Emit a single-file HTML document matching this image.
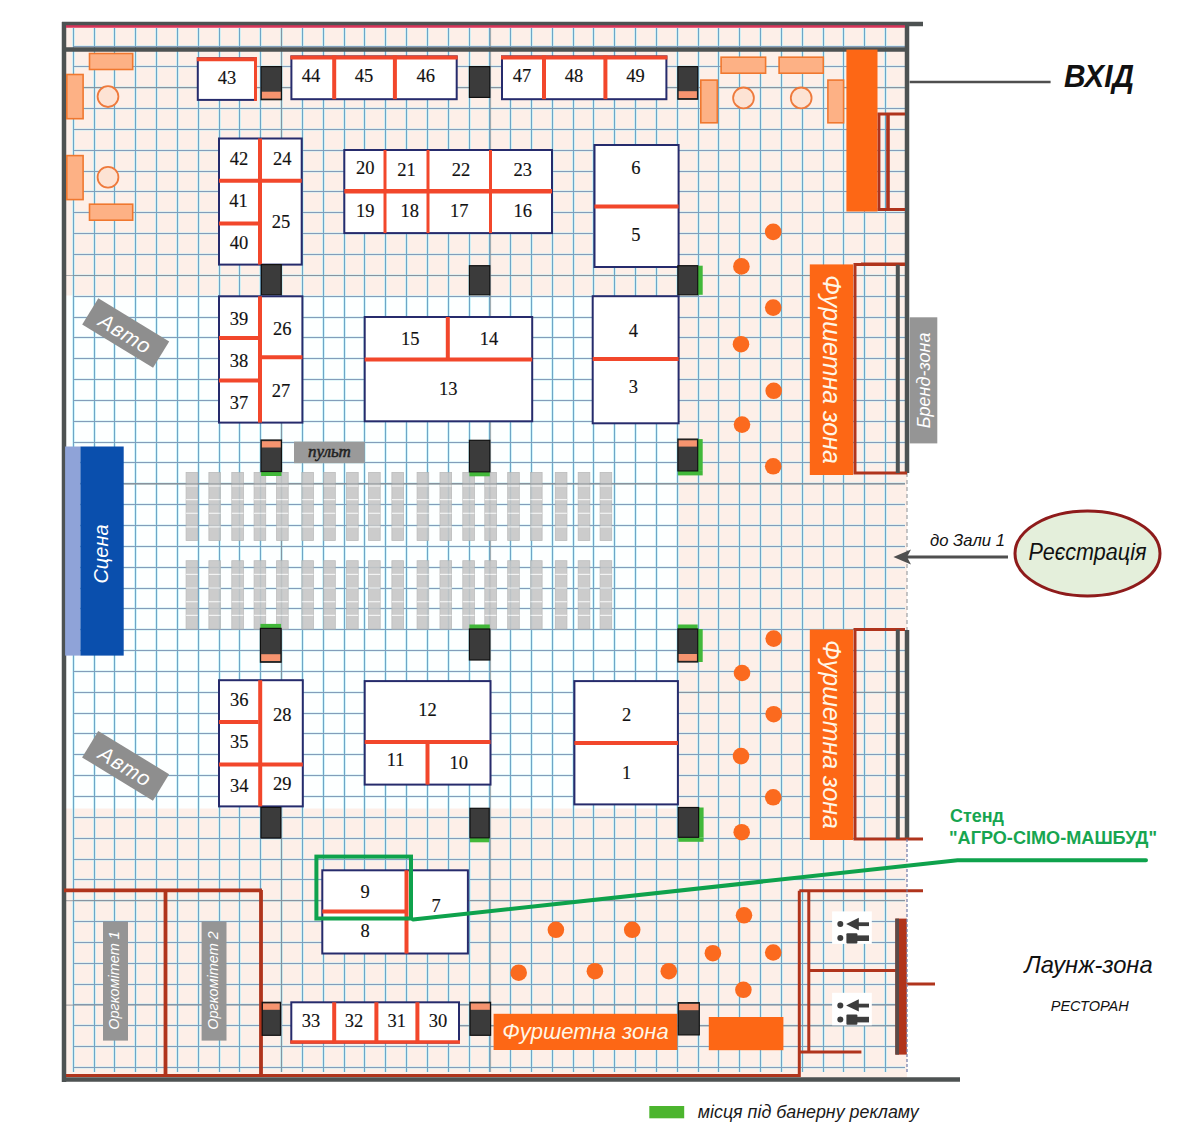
<!DOCTYPE html><html><head><meta charset="utf-8"><style>html,body{margin:0;padding:0;background:#fff;width:1180px;height:1135px;overflow:hidden}svg{display:block}</style></head><body><svg width="1180" height="1135" viewBox="0 0 1180 1135">
<rect x="0" y="0" width="1180" height="1135" fill="#ffffff"/>
<rect x="62" y="24" width="845" height="1056" fill="#fdefe8"/>
<rect x="66" y="295.5" width="612" height="513" fill="#fdffff"/>
<path d="M73.5 28V1072 M94.5 28V1072 M114.5 28V1072 M135.5 28V1072 M156.5 28V1072 M177.5 28V1072 M198.5 28V1072 M219.5 28V1072 M239.5 28V1072 M260.5 28V1072 M281.5 28V1072 M302.5 28V1072 M323.5 28V1072 M344.5 28V1072 M364.5 28V1072 M385.5 28V1072 M406.5 28V1072 M427.5 28V1072 M448.5 28V1072 M469.5 28V1072 M489.5 28V1072 M510.5 28V1072 M531.5 28V1072 M552.5 28V1072 M573.5 28V1072 M593.5 28V1072 M614.5 28V1072 M635.5 28V1072 M656.5 28V1072 M677.5 28V1072 M698.5 28V1072 M718.5 28V1072 M739.5 28V1072 M760.5 28V1072 M781.5 28V1072 M802.5 28V1072 M823.5 28V1072 M843.5 28V1072 M864.5 28V1072 M885.5 28V1072" stroke="#bff0f8" stroke-width="3" fill="none" opacity="0.7"/>
<path d="M73 46.5H905 M73 66.5H905 M73 87.5H905 M73 108.5H905 M73 129.5H905 M73 150.5H905 M73 171.5H905 M73 191.5H905 M73 212.5H905 M73 233.5H905 M73 254.5H905 M73 275.5H905 M73 296.5H905 M73 317.5H905 M73 337.5H905 M73 358.5H905 M73 379.5H905 M73 400.5H905 M73 421.5H905 M73 442.5H905 M73 462.5H905 M73 483.5H905 M73 504.5H905 M73 525.5H905 M73 546.5H905 M73 567.5H905 M73 588.5H905 M73 608.5H905 M73 629.5H905 M73 650.5H905 M73 671.5H905 M73 692.5H905 M73 713.5H905 M73 733.5H905 M73 754.5H905 M73 775.5H905 M73 796.5H905 M73 817.5H905 M73 838.5H905 M73 859.5H905 M73 879.5H905 M73 900.5H905 M73 921.5H905 M73 942.5H905 M73 963.5H905 M73 984.5H905 M73 1004.5H905 M73 1025.5H905 M73 1046.5H905 M73 1067.5H905" stroke="#c6eef4" stroke-width="3" fill="none" opacity="0.5"/>
<path d="M73.5 28V1072 M94.5 28V1072 M114.5 28V1072 M135.5 28V1072 M156.5 28V1072 M177.5 28V1072 M198.5 28V1072 M219.5 28V1072 M239.5 28V1072 M260.5 28V1072 M281.5 28V1072 M302.5 28V1072 M323.5 28V1072 M344.5 28V1072 M364.5 28V1072 M385.5 28V1072 M406.5 28V1072 M427.5 28V1072 M448.5 28V1072 M469.5 28V1072 M489.5 28V1072 M510.5 28V1072 M531.5 28V1072 M552.5 28V1072 M573.5 28V1072 M593.5 28V1072 M614.5 28V1072 M635.5 28V1072 M656.5 28V1072 M677.5 28V1072 M698.5 28V1072 M718.5 28V1072 M739.5 28V1072 M760.5 28V1072 M781.5 28V1072 M802.5 28V1072 M823.5 28V1072 M843.5 28V1072 M864.5 28V1072 M885.5 28V1072" stroke="#6fa5c6" stroke-width="1" fill="none"/>
<path d="M73 46.5H905 M73 66.5H905 M73 87.5H905 M73 108.5H905 M73 129.5H905 M73 150.5H905 M73 171.5H905 M73 191.5H905 M73 212.5H905 M73 233.5H905 M73 254.5H905 M73 275.5H905 M73 296.5H905 M73 317.5H905 M73 337.5H905 M73 358.5H905 M73 379.5H905 M73 400.5H905 M73 421.5H905 M73 442.5H905 M73 462.5H905 M73 483.5H905 M73 504.5H905 M73 525.5H905 M73 546.5H905 M73 567.5H905 M73 588.5H905 M73 608.5H905 M73 629.5H905 M73 650.5H905 M73 671.5H905 M73 692.5H905 M73 713.5H905 M73 733.5H905 M73 754.5H905 M73 775.5H905 M73 796.5H905 M73 817.5H905 M73 838.5H905 M73 859.5H905 M73 879.5H905 M73 900.5H905 M73 921.5H905 M73 942.5H905 M73 963.5H905 M73 984.5H905 M73 1004.5H905 M73 1025.5H905 M73 1046.5H905 M73 1067.5H905" stroke="#839dba" stroke-width="1" fill="none"/>
<path d="M66 87.7H905 M66 275.5H905 M66 483.8H905 M678 692.3H905 M66 900.7H905 M66 1005.1H905 M290 1025.8H905 M281.5 28V1072 M490.5 28V1072" stroke="#8a8f94" stroke-width="1.2" fill="none" opacity="0.7"/>
<path d="M64 22V1082 M62 24H923 M62 49.5H907 M907 22V473 M907 630V839 M62 1079.5H960" stroke="#4d5252" stroke-width="4.5" fill="none"/>
<path d="M66 26.5H905" stroke="#d8345a" stroke-width="2.5" fill="none"/>
<path d="M907 473V630" stroke="#8a8f94" stroke-width="1" stroke-dasharray="4 3" fill="none"/>
<g opacity="0.88"><rect x="186.1" y="472.4" width="11.6" height="68.1" fill="#c6c6c6" stroke="#b3b3b3" stroke-width="0.8"/><line x1="186.1" y1="486.0" x2="197.7" y2="486.0" stroke="#f2f2f2" stroke-width="1.2"/><line x1="186.1" y1="499.6" x2="197.7" y2="499.6" stroke="#f2f2f2" stroke-width="1.2"/><line x1="186.1" y1="513.3" x2="197.7" y2="513.3" stroke="#f2f2f2" stroke-width="1.2"/><line x1="186.1" y1="526.9" x2="197.7" y2="526.9" stroke="#f2f2f2" stroke-width="1.2"/><rect x="186.1" y="560.7" width="11.6" height="68.4" fill="#c6c6c6" stroke="#b3b3b3" stroke-width="0.8"/><line x1="186.1" y1="574.4" x2="197.7" y2="574.4" stroke="#f2f2f2" stroke-width="1.2"/><line x1="186.1" y1="588.1" x2="197.7" y2="588.1" stroke="#f2f2f2" stroke-width="1.2"/><line x1="186.1" y1="601.7" x2="197.7" y2="601.7" stroke="#f2f2f2" stroke-width="1.2"/><line x1="186.1" y1="615.4" x2="197.7" y2="615.4" stroke="#f2f2f2" stroke-width="1.2"/><rect x="208.9" y="472.4" width="11.6" height="68.1" fill="#c6c6c6" stroke="#b3b3b3" stroke-width="0.8"/><line x1="208.9" y1="486.0" x2="220.5" y2="486.0" stroke="#f2f2f2" stroke-width="1.2"/><line x1="208.9" y1="499.6" x2="220.5" y2="499.6" stroke="#f2f2f2" stroke-width="1.2"/><line x1="208.9" y1="513.3" x2="220.5" y2="513.3" stroke="#f2f2f2" stroke-width="1.2"/><line x1="208.9" y1="526.9" x2="220.5" y2="526.9" stroke="#f2f2f2" stroke-width="1.2"/><rect x="208.9" y="560.7" width="11.6" height="68.4" fill="#c6c6c6" stroke="#b3b3b3" stroke-width="0.8"/><line x1="208.9" y1="574.4" x2="220.5" y2="574.4" stroke="#f2f2f2" stroke-width="1.2"/><line x1="208.9" y1="588.1" x2="220.5" y2="588.1" stroke="#f2f2f2" stroke-width="1.2"/><line x1="208.9" y1="601.7" x2="220.5" y2="601.7" stroke="#f2f2f2" stroke-width="1.2"/><line x1="208.9" y1="615.4" x2="220.5" y2="615.4" stroke="#f2f2f2" stroke-width="1.2"/><rect x="231.8" y="472.4" width="11.6" height="68.1" fill="#c6c6c6" stroke="#b3b3b3" stroke-width="0.8"/><line x1="231.8" y1="486.0" x2="243.4" y2="486.0" stroke="#f2f2f2" stroke-width="1.2"/><line x1="231.8" y1="499.6" x2="243.4" y2="499.6" stroke="#f2f2f2" stroke-width="1.2"/><line x1="231.8" y1="513.3" x2="243.4" y2="513.3" stroke="#f2f2f2" stroke-width="1.2"/><line x1="231.8" y1="526.9" x2="243.4" y2="526.9" stroke="#f2f2f2" stroke-width="1.2"/><rect x="231.8" y="560.7" width="11.6" height="68.4" fill="#c6c6c6" stroke="#b3b3b3" stroke-width="0.8"/><line x1="231.8" y1="574.4" x2="243.4" y2="574.4" stroke="#f2f2f2" stroke-width="1.2"/><line x1="231.8" y1="588.1" x2="243.4" y2="588.1" stroke="#f2f2f2" stroke-width="1.2"/><line x1="231.8" y1="601.7" x2="243.4" y2="601.7" stroke="#f2f2f2" stroke-width="1.2"/><line x1="231.8" y1="615.4" x2="243.4" y2="615.4" stroke="#f2f2f2" stroke-width="1.2"/><rect x="254.1" y="472.4" width="11.6" height="68.1" fill="#c6c6c6" stroke="#b3b3b3" stroke-width="0.8"/><line x1="254.1" y1="486.0" x2="265.7" y2="486.0" stroke="#f2f2f2" stroke-width="1.2"/><line x1="254.1" y1="499.6" x2="265.7" y2="499.6" stroke="#f2f2f2" stroke-width="1.2"/><line x1="254.1" y1="513.3" x2="265.7" y2="513.3" stroke="#f2f2f2" stroke-width="1.2"/><line x1="254.1" y1="526.9" x2="265.7" y2="526.9" stroke="#f2f2f2" stroke-width="1.2"/><rect x="254.1" y="560.7" width="11.6" height="68.4" fill="#c6c6c6" stroke="#b3b3b3" stroke-width="0.8"/><line x1="254.1" y1="574.4" x2="265.7" y2="574.4" stroke="#f2f2f2" stroke-width="1.2"/><line x1="254.1" y1="588.1" x2="265.7" y2="588.1" stroke="#f2f2f2" stroke-width="1.2"/><line x1="254.1" y1="601.7" x2="265.7" y2="601.7" stroke="#f2f2f2" stroke-width="1.2"/><line x1="254.1" y1="615.4" x2="265.7" y2="615.4" stroke="#f2f2f2" stroke-width="1.2"/><rect x="276.6" y="472.4" width="11.6" height="68.1" fill="#c6c6c6" stroke="#b3b3b3" stroke-width="0.8"/><line x1="276.6" y1="486.0" x2="288.2" y2="486.0" stroke="#f2f2f2" stroke-width="1.2"/><line x1="276.6" y1="499.6" x2="288.2" y2="499.6" stroke="#f2f2f2" stroke-width="1.2"/><line x1="276.6" y1="513.3" x2="288.2" y2="513.3" stroke="#f2f2f2" stroke-width="1.2"/><line x1="276.6" y1="526.9" x2="288.2" y2="526.9" stroke="#f2f2f2" stroke-width="1.2"/><rect x="276.6" y="560.7" width="11.6" height="68.4" fill="#c6c6c6" stroke="#b3b3b3" stroke-width="0.8"/><line x1="276.6" y1="574.4" x2="288.2" y2="574.4" stroke="#f2f2f2" stroke-width="1.2"/><line x1="276.6" y1="588.1" x2="288.2" y2="588.1" stroke="#f2f2f2" stroke-width="1.2"/><line x1="276.6" y1="601.7" x2="288.2" y2="601.7" stroke="#f2f2f2" stroke-width="1.2"/><line x1="276.6" y1="615.4" x2="288.2" y2="615.4" stroke="#f2f2f2" stroke-width="1.2"/><rect x="301.8" y="472.4" width="11.6" height="68.1" fill="#c6c6c6" stroke="#b3b3b3" stroke-width="0.8"/><line x1="301.8" y1="486.0" x2="313.4" y2="486.0" stroke="#f2f2f2" stroke-width="1.2"/><line x1="301.8" y1="499.6" x2="313.4" y2="499.6" stroke="#f2f2f2" stroke-width="1.2"/><line x1="301.8" y1="513.3" x2="313.4" y2="513.3" stroke="#f2f2f2" stroke-width="1.2"/><line x1="301.8" y1="526.9" x2="313.4" y2="526.9" stroke="#f2f2f2" stroke-width="1.2"/><rect x="301.8" y="560.7" width="11.6" height="68.4" fill="#c6c6c6" stroke="#b3b3b3" stroke-width="0.8"/><line x1="301.8" y1="574.4" x2="313.4" y2="574.4" stroke="#f2f2f2" stroke-width="1.2"/><line x1="301.8" y1="588.1" x2="313.4" y2="588.1" stroke="#f2f2f2" stroke-width="1.2"/><line x1="301.8" y1="601.7" x2="313.4" y2="601.7" stroke="#f2f2f2" stroke-width="1.2"/><line x1="301.8" y1="615.4" x2="313.4" y2="615.4" stroke="#f2f2f2" stroke-width="1.2"/><rect x="323.7" y="472.4" width="11.6" height="68.1" fill="#c6c6c6" stroke="#b3b3b3" stroke-width="0.8"/><line x1="323.7" y1="486.0" x2="335.3" y2="486.0" stroke="#f2f2f2" stroke-width="1.2"/><line x1="323.7" y1="499.6" x2="335.3" y2="499.6" stroke="#f2f2f2" stroke-width="1.2"/><line x1="323.7" y1="513.3" x2="335.3" y2="513.3" stroke="#f2f2f2" stroke-width="1.2"/><line x1="323.7" y1="526.9" x2="335.3" y2="526.9" stroke="#f2f2f2" stroke-width="1.2"/><rect x="323.7" y="560.7" width="11.6" height="68.4" fill="#c6c6c6" stroke="#b3b3b3" stroke-width="0.8"/><line x1="323.7" y1="574.4" x2="335.3" y2="574.4" stroke="#f2f2f2" stroke-width="1.2"/><line x1="323.7" y1="588.1" x2="335.3" y2="588.1" stroke="#f2f2f2" stroke-width="1.2"/><line x1="323.7" y1="601.7" x2="335.3" y2="601.7" stroke="#f2f2f2" stroke-width="1.2"/><line x1="323.7" y1="615.4" x2="335.3" y2="615.4" stroke="#f2f2f2" stroke-width="1.2"/><rect x="346.6" y="472.4" width="11.6" height="68.1" fill="#c6c6c6" stroke="#b3b3b3" stroke-width="0.8"/><line x1="346.6" y1="486.0" x2="358.2" y2="486.0" stroke="#f2f2f2" stroke-width="1.2"/><line x1="346.6" y1="499.6" x2="358.2" y2="499.6" stroke="#f2f2f2" stroke-width="1.2"/><line x1="346.6" y1="513.3" x2="358.2" y2="513.3" stroke="#f2f2f2" stroke-width="1.2"/><line x1="346.6" y1="526.9" x2="358.2" y2="526.9" stroke="#f2f2f2" stroke-width="1.2"/><rect x="346.6" y="560.7" width="11.6" height="68.4" fill="#c6c6c6" stroke="#b3b3b3" stroke-width="0.8"/><line x1="346.6" y1="574.4" x2="358.2" y2="574.4" stroke="#f2f2f2" stroke-width="1.2"/><line x1="346.6" y1="588.1" x2="358.2" y2="588.1" stroke="#f2f2f2" stroke-width="1.2"/><line x1="346.6" y1="601.7" x2="358.2" y2="601.7" stroke="#f2f2f2" stroke-width="1.2"/><line x1="346.6" y1="615.4" x2="358.2" y2="615.4" stroke="#f2f2f2" stroke-width="1.2"/><rect x="368.6" y="472.4" width="11.6" height="68.1" fill="#c6c6c6" stroke="#b3b3b3" stroke-width="0.8"/><line x1="368.6" y1="486.0" x2="380.2" y2="486.0" stroke="#f2f2f2" stroke-width="1.2"/><line x1="368.6" y1="499.6" x2="380.2" y2="499.6" stroke="#f2f2f2" stroke-width="1.2"/><line x1="368.6" y1="513.3" x2="380.2" y2="513.3" stroke="#f2f2f2" stroke-width="1.2"/><line x1="368.6" y1="526.9" x2="380.2" y2="526.9" stroke="#f2f2f2" stroke-width="1.2"/><rect x="368.6" y="560.7" width="11.6" height="68.4" fill="#c6c6c6" stroke="#b3b3b3" stroke-width="0.8"/><line x1="368.6" y1="574.4" x2="380.2" y2="574.4" stroke="#f2f2f2" stroke-width="1.2"/><line x1="368.6" y1="588.1" x2="380.2" y2="588.1" stroke="#f2f2f2" stroke-width="1.2"/><line x1="368.6" y1="601.7" x2="380.2" y2="601.7" stroke="#f2f2f2" stroke-width="1.2"/><line x1="368.6" y1="615.4" x2="380.2" y2="615.4" stroke="#f2f2f2" stroke-width="1.2"/><rect x="391.9" y="472.4" width="11.6" height="68.1" fill="#c6c6c6" stroke="#b3b3b3" stroke-width="0.8"/><line x1="391.9" y1="486.0" x2="403.5" y2="486.0" stroke="#f2f2f2" stroke-width="1.2"/><line x1="391.9" y1="499.6" x2="403.5" y2="499.6" stroke="#f2f2f2" stroke-width="1.2"/><line x1="391.9" y1="513.3" x2="403.5" y2="513.3" stroke="#f2f2f2" stroke-width="1.2"/><line x1="391.9" y1="526.9" x2="403.5" y2="526.9" stroke="#f2f2f2" stroke-width="1.2"/><rect x="391.9" y="560.7" width="11.6" height="68.4" fill="#c6c6c6" stroke="#b3b3b3" stroke-width="0.8"/><line x1="391.9" y1="574.4" x2="403.5" y2="574.4" stroke="#f2f2f2" stroke-width="1.2"/><line x1="391.9" y1="588.1" x2="403.5" y2="588.1" stroke="#f2f2f2" stroke-width="1.2"/><line x1="391.9" y1="601.7" x2="403.5" y2="601.7" stroke="#f2f2f2" stroke-width="1.2"/><line x1="391.9" y1="615.4" x2="403.5" y2="615.4" stroke="#f2f2f2" stroke-width="1.2"/><rect x="417.1" y="472.4" width="11.6" height="68.1" fill="#c6c6c6" stroke="#b3b3b3" stroke-width="0.8"/><line x1="417.1" y1="486.0" x2="428.7" y2="486.0" stroke="#f2f2f2" stroke-width="1.2"/><line x1="417.1" y1="499.6" x2="428.7" y2="499.6" stroke="#f2f2f2" stroke-width="1.2"/><line x1="417.1" y1="513.3" x2="428.7" y2="513.3" stroke="#f2f2f2" stroke-width="1.2"/><line x1="417.1" y1="526.9" x2="428.7" y2="526.9" stroke="#f2f2f2" stroke-width="1.2"/><rect x="417.1" y="560.7" width="11.6" height="68.4" fill="#c6c6c6" stroke="#b3b3b3" stroke-width="0.8"/><line x1="417.1" y1="574.4" x2="428.7" y2="574.4" stroke="#f2f2f2" stroke-width="1.2"/><line x1="417.1" y1="588.1" x2="428.7" y2="588.1" stroke="#f2f2f2" stroke-width="1.2"/><line x1="417.1" y1="601.7" x2="428.7" y2="601.7" stroke="#f2f2f2" stroke-width="1.2"/><line x1="417.1" y1="615.4" x2="428.7" y2="615.4" stroke="#f2f2f2" stroke-width="1.2"/><rect x="440.0" y="472.4" width="11.6" height="68.1" fill="#c6c6c6" stroke="#b3b3b3" stroke-width="0.8"/><line x1="440.0" y1="486.0" x2="451.6" y2="486.0" stroke="#f2f2f2" stroke-width="1.2"/><line x1="440.0" y1="499.6" x2="451.6" y2="499.6" stroke="#f2f2f2" stroke-width="1.2"/><line x1="440.0" y1="513.3" x2="451.6" y2="513.3" stroke="#f2f2f2" stroke-width="1.2"/><line x1="440.0" y1="526.9" x2="451.6" y2="526.9" stroke="#f2f2f2" stroke-width="1.2"/><rect x="440.0" y="560.7" width="11.6" height="68.4" fill="#c6c6c6" stroke="#b3b3b3" stroke-width="0.8"/><line x1="440.0" y1="574.4" x2="451.6" y2="574.4" stroke="#f2f2f2" stroke-width="1.2"/><line x1="440.0" y1="588.1" x2="451.6" y2="588.1" stroke="#f2f2f2" stroke-width="1.2"/><line x1="440.0" y1="601.7" x2="451.6" y2="601.7" stroke="#f2f2f2" stroke-width="1.2"/><line x1="440.0" y1="615.4" x2="451.6" y2="615.4" stroke="#f2f2f2" stroke-width="1.2"/><rect x="462.8" y="472.4" width="11.6" height="68.1" fill="#c6c6c6" stroke="#b3b3b3" stroke-width="0.8"/><line x1="462.8" y1="486.0" x2="474.4" y2="486.0" stroke="#f2f2f2" stroke-width="1.2"/><line x1="462.8" y1="499.6" x2="474.4" y2="499.6" stroke="#f2f2f2" stroke-width="1.2"/><line x1="462.8" y1="513.3" x2="474.4" y2="513.3" stroke="#f2f2f2" stroke-width="1.2"/><line x1="462.8" y1="526.9" x2="474.4" y2="526.9" stroke="#f2f2f2" stroke-width="1.2"/><rect x="462.8" y="560.7" width="11.6" height="68.4" fill="#c6c6c6" stroke="#b3b3b3" stroke-width="0.8"/><line x1="462.8" y1="574.4" x2="474.4" y2="574.4" stroke="#f2f2f2" stroke-width="1.2"/><line x1="462.8" y1="588.1" x2="474.4" y2="588.1" stroke="#f2f2f2" stroke-width="1.2"/><line x1="462.8" y1="601.7" x2="474.4" y2="601.7" stroke="#f2f2f2" stroke-width="1.2"/><line x1="462.8" y1="615.4" x2="474.4" y2="615.4" stroke="#f2f2f2" stroke-width="1.2"/><rect x="484.8" y="472.4" width="11.6" height="68.1" fill="#c6c6c6" stroke="#b3b3b3" stroke-width="0.8"/><line x1="484.8" y1="486.0" x2="496.4" y2="486.0" stroke="#f2f2f2" stroke-width="1.2"/><line x1="484.8" y1="499.6" x2="496.4" y2="499.6" stroke="#f2f2f2" stroke-width="1.2"/><line x1="484.8" y1="513.3" x2="496.4" y2="513.3" stroke="#f2f2f2" stroke-width="1.2"/><line x1="484.8" y1="526.9" x2="496.4" y2="526.9" stroke="#f2f2f2" stroke-width="1.2"/><rect x="484.8" y="560.7" width="11.6" height="68.4" fill="#c6c6c6" stroke="#b3b3b3" stroke-width="0.8"/><line x1="484.8" y1="574.4" x2="496.4" y2="574.4" stroke="#f2f2f2" stroke-width="1.2"/><line x1="484.8" y1="588.1" x2="496.4" y2="588.1" stroke="#f2f2f2" stroke-width="1.2"/><line x1="484.8" y1="601.7" x2="496.4" y2="601.7" stroke="#f2f2f2" stroke-width="1.2"/><line x1="484.8" y1="615.4" x2="496.4" y2="615.4" stroke="#f2f2f2" stroke-width="1.2"/><rect x="507.7" y="472.4" width="11.6" height="68.1" fill="#c6c6c6" stroke="#b3b3b3" stroke-width="0.8"/><line x1="507.7" y1="486.0" x2="519.3" y2="486.0" stroke="#f2f2f2" stroke-width="1.2"/><line x1="507.7" y1="499.6" x2="519.3" y2="499.6" stroke="#f2f2f2" stroke-width="1.2"/><line x1="507.7" y1="513.3" x2="519.3" y2="513.3" stroke="#f2f2f2" stroke-width="1.2"/><line x1="507.7" y1="526.9" x2="519.3" y2="526.9" stroke="#f2f2f2" stroke-width="1.2"/><rect x="507.7" y="560.7" width="11.6" height="68.4" fill="#c6c6c6" stroke="#b3b3b3" stroke-width="0.8"/><line x1="507.7" y1="574.4" x2="519.3" y2="574.4" stroke="#f2f2f2" stroke-width="1.2"/><line x1="507.7" y1="588.1" x2="519.3" y2="588.1" stroke="#f2f2f2" stroke-width="1.2"/><line x1="507.7" y1="601.7" x2="519.3" y2="601.7" stroke="#f2f2f2" stroke-width="1.2"/><line x1="507.7" y1="615.4" x2="519.3" y2="615.4" stroke="#f2f2f2" stroke-width="1.2"/><rect x="530.5" y="472.4" width="11.6" height="68.1" fill="#c6c6c6" stroke="#b3b3b3" stroke-width="0.8"/><line x1="530.5" y1="486.0" x2="542.1" y2="486.0" stroke="#f2f2f2" stroke-width="1.2"/><line x1="530.5" y1="499.6" x2="542.1" y2="499.6" stroke="#f2f2f2" stroke-width="1.2"/><line x1="530.5" y1="513.3" x2="542.1" y2="513.3" stroke="#f2f2f2" stroke-width="1.2"/><line x1="530.5" y1="526.9" x2="542.1" y2="526.9" stroke="#f2f2f2" stroke-width="1.2"/><rect x="530.5" y="560.7" width="11.6" height="68.4" fill="#c6c6c6" stroke="#b3b3b3" stroke-width="0.8"/><line x1="530.5" y1="574.4" x2="542.1" y2="574.4" stroke="#f2f2f2" stroke-width="1.2"/><line x1="530.5" y1="588.1" x2="542.1" y2="588.1" stroke="#f2f2f2" stroke-width="1.2"/><line x1="530.5" y1="601.7" x2="542.1" y2="601.7" stroke="#f2f2f2" stroke-width="1.2"/><line x1="530.5" y1="615.4" x2="542.1" y2="615.4" stroke="#f2f2f2" stroke-width="1.2"/><rect x="555.3" y="472.4" width="11.6" height="68.1" fill="#c6c6c6" stroke="#b3b3b3" stroke-width="0.8"/><line x1="555.3" y1="486.0" x2="566.9" y2="486.0" stroke="#f2f2f2" stroke-width="1.2"/><line x1="555.3" y1="499.6" x2="566.9" y2="499.6" stroke="#f2f2f2" stroke-width="1.2"/><line x1="555.3" y1="513.3" x2="566.9" y2="513.3" stroke="#f2f2f2" stroke-width="1.2"/><line x1="555.3" y1="526.9" x2="566.9" y2="526.9" stroke="#f2f2f2" stroke-width="1.2"/><rect x="555.3" y="560.7" width="11.6" height="68.4" fill="#c6c6c6" stroke="#b3b3b3" stroke-width="0.8"/><line x1="555.3" y1="574.4" x2="566.9" y2="574.4" stroke="#f2f2f2" stroke-width="1.2"/><line x1="555.3" y1="588.1" x2="566.9" y2="588.1" stroke="#f2f2f2" stroke-width="1.2"/><line x1="555.3" y1="601.7" x2="566.9" y2="601.7" stroke="#f2f2f2" stroke-width="1.2"/><line x1="555.3" y1="615.4" x2="566.9" y2="615.4" stroke="#f2f2f2" stroke-width="1.2"/><rect x="578.2" y="472.4" width="11.6" height="68.1" fill="#c6c6c6" stroke="#b3b3b3" stroke-width="0.8"/><line x1="578.2" y1="486.0" x2="589.8" y2="486.0" stroke="#f2f2f2" stroke-width="1.2"/><line x1="578.2" y1="499.6" x2="589.8" y2="499.6" stroke="#f2f2f2" stroke-width="1.2"/><line x1="578.2" y1="513.3" x2="589.8" y2="513.3" stroke="#f2f2f2" stroke-width="1.2"/><line x1="578.2" y1="526.9" x2="589.8" y2="526.9" stroke="#f2f2f2" stroke-width="1.2"/><rect x="578.2" y="560.7" width="11.6" height="68.4" fill="#c6c6c6" stroke="#b3b3b3" stroke-width="0.8"/><line x1="578.2" y1="574.4" x2="589.8" y2="574.4" stroke="#f2f2f2" stroke-width="1.2"/><line x1="578.2" y1="588.1" x2="589.8" y2="588.1" stroke="#f2f2f2" stroke-width="1.2"/><line x1="578.2" y1="601.7" x2="589.8" y2="601.7" stroke="#f2f2f2" stroke-width="1.2"/><line x1="578.2" y1="615.4" x2="589.8" y2="615.4" stroke="#f2f2f2" stroke-width="1.2"/><rect x="600.1" y="472.4" width="11.6" height="68.1" fill="#c6c6c6" stroke="#b3b3b3" stroke-width="0.8"/><line x1="600.1" y1="486.0" x2="611.7" y2="486.0" stroke="#f2f2f2" stroke-width="1.2"/><line x1="600.1" y1="499.6" x2="611.7" y2="499.6" stroke="#f2f2f2" stroke-width="1.2"/><line x1="600.1" y1="513.3" x2="611.7" y2="513.3" stroke="#f2f2f2" stroke-width="1.2"/><line x1="600.1" y1="526.9" x2="611.7" y2="526.9" stroke="#f2f2f2" stroke-width="1.2"/><rect x="600.1" y="560.7" width="11.6" height="68.4" fill="#c6c6c6" stroke="#b3b3b3" stroke-width="0.8"/><line x1="600.1" y1="574.4" x2="611.7" y2="574.4" stroke="#f2f2f2" stroke-width="1.2"/><line x1="600.1" y1="588.1" x2="611.7" y2="588.1" stroke="#f2f2f2" stroke-width="1.2"/><line x1="600.1" y1="601.7" x2="611.7" y2="601.7" stroke="#f2f2f2" stroke-width="1.2"/><line x1="600.1" y1="615.4" x2="611.7" y2="615.4" stroke="#f2f2f2" stroke-width="1.2"/></g>
<path d="M124 483.8H905" stroke="#8a8f94" stroke-width="1.2" fill="none" opacity="0.6"/>
<rect x="89.5" y="53.5" width="43.2" height="16.0" fill="#fdb185" stroke="#f0782f" stroke-width="1.6" />
<rect x="66.8" y="74.5" width="16.3" height="44.2" fill="#fdb185" stroke="#f0782f" stroke-width="1.6" />
<circle cx="108.0" cy="96.6" r="10.4" fill="#fde3d4" stroke="#ee7a3c" stroke-width="1.8"/>
<rect x="66.8" y="155.6" width="16.3" height="44.0" fill="#fdb185" stroke="#f0782f" stroke-width="1.6" />
<circle cx="108.0" cy="177.2" r="10.4" fill="#fde3d4" stroke="#ee7a3c" stroke-width="1.8"/>
<rect x="89.5" y="204.2" width="43.2" height="16.0" fill="#fdb185" stroke="#f0782f" stroke-width="1.6" />
<rect x="700.8" y="80.1" width="16.5" height="42.7" fill="#fdb185" stroke="#f0782f" stroke-width="1.6" />
<rect x="721.1" y="57.2" width="44.5" height="16.0" fill="#fdb185" stroke="#f0782f" stroke-width="1.6" />
<rect x="779.1" y="57.2" width="44.2" height="16.0" fill="#fdb185" stroke="#f0782f" stroke-width="1.6" />
<circle cx="743.5" cy="97.9" r="10.4" fill="#fde3d4" stroke="#ee7a3c" stroke-width="1.8"/>
<circle cx="801.2" cy="97.9" r="10.4" fill="#fde3d4" stroke="#ee7a3c" stroke-width="1.8"/>
<rect x="827.9" y="80.1" width="15.7" height="42.7" fill="#fdb185" stroke="#f0782f" stroke-width="1.6" />
<rect x="846.4" y="49.6" width="31.1" height="161.9" fill="#fd6715" />
<path d="M877.5 114H905 M879 114V210 M877.5 209.5H905" stroke="#b0341c" stroke-width="2.8" fill="none"/>
<line x1="888.0" y1="114.0" x2="888.0" y2="209.5" stroke="#b0341c" stroke-width="3.6" />
<rect x="197.8" y="58.2" width="57.7" height="41.7" fill="#ffffff" stroke="#262b6c" stroke-width="2" />
<line x1="196.8" y1="59.2" x2="257.0" y2="59.2" stroke="#f2472b" stroke-width="4" />
<line x1="255.5" y1="57.2" x2="255.5" y2="100.9" stroke="#f2472b" stroke-width="3" />
<text x="227.0" y="77.6" font-family="Liberation Serif" font-size="18.5" font-style="normal" font-weight="normal" fill="#111" text-anchor="middle" dominant-baseline="central" stroke="#111" stroke-width="0.15">43</text>
<rect x="261.1" y="66.6" width="20.4" height="33.1" fill="#3b3b3b" stroke="#111" stroke-width="1.2" />
<rect x="261.9" y="91.7" width="18.8" height="6.8" fill="#f6946f" />
<rect x="291.4" y="56.4" width="165.3" height="42.8" fill="#ffffff" stroke="#262b6c" stroke-width="2" />
<line x1="290.4" y1="57.4" x2="457.7" y2="57.4" stroke="#f2472b" stroke-width="4" />
<line x1="334.2" y1="55.4" x2="334.2" y2="99.2" stroke="#f2472b" stroke-width="4" />
<line x1="394.9" y1="55.4" x2="394.9" y2="99.2" stroke="#f2472b" stroke-width="4" />
<text x="311.0" y="76.1" font-family="Liberation Serif" font-size="18.5" font-style="normal" font-weight="normal" fill="#111" text-anchor="middle" dominant-baseline="central" stroke="#111" stroke-width="0.15">44</text>
<text x="363.9" y="76.1" font-family="Liberation Serif" font-size="18.5" font-style="normal" font-weight="normal" fill="#111" text-anchor="middle" dominant-baseline="central" stroke="#111" stroke-width="0.15">45</text>
<text x="425.7" y="76.1" font-family="Liberation Serif" font-size="18.5" font-style="normal" font-weight="normal" fill="#111" text-anchor="middle" dominant-baseline="central" stroke="#111" stroke-width="0.15">46</text>
<rect x="469.4" y="66.6" width="20.4" height="30.8" fill="#3b3b3b" stroke="#111" stroke-width="1.2" />
<rect x="502.0" y="56.4" width="164.4" height="42.8" fill="#ffffff" stroke="#262b6c" stroke-width="2" />
<line x1="501.0" y1="57.4" x2="667.4" y2="57.4" stroke="#f2472b" stroke-width="4" />
<line x1="544.0" y1="55.4" x2="544.0" y2="99.2" stroke="#f2472b" stroke-width="4" />
<line x1="605.4" y1="55.4" x2="605.4" y2="99.2" stroke="#f2472b" stroke-width="4" />
<text x="522.0" y="76.1" font-family="Liberation Serif" font-size="18.5" font-style="normal" font-weight="normal" fill="#111" text-anchor="middle" dominant-baseline="central" stroke="#111" stroke-width="0.15">47</text>
<text x="574.0" y="76.1" font-family="Liberation Serif" font-size="18.5" font-style="normal" font-weight="normal" fill="#111" text-anchor="middle" dominant-baseline="central" stroke="#111" stroke-width="0.15">48</text>
<text x="635.6" y="76.1" font-family="Liberation Serif" font-size="18.5" font-style="normal" font-weight="normal" fill="#111" text-anchor="middle" dominant-baseline="central" stroke="#111" stroke-width="0.15">49</text>
<rect x="677.9" y="66.6" width="19.8" height="32.6" fill="#3b3b3b" stroke="#111" stroke-width="1.2" />
<rect x="678.7" y="91.2" width="18.2" height="6.8" fill="#f6946f" />
<rect x="219.0" y="138.5" width="82.7" height="126.1" fill="#ffffff" stroke="#262b6c" stroke-width="2" />
<line x1="219.0" y1="180.7" x2="301.7" y2="180.7" stroke="#f2472b" stroke-width="4" />
<line x1="219.0" y1="223.4" x2="258.5" y2="223.4" stroke="#f2472b" stroke-width="4" />
<line x1="260.0" y1="138.5" x2="260.0" y2="264.6" stroke="#f2472b" stroke-width="4" />
<text x="238.9" y="159.1" font-family="Liberation Serif" font-size="18.5" font-style="normal" font-weight="normal" fill="#111" text-anchor="middle" dominant-baseline="central" stroke="#111" stroke-width="0.15">42</text>
<text x="282.2" y="159.1" font-family="Liberation Serif" font-size="18.5" font-style="normal" font-weight="normal" fill="#111" text-anchor="middle" dominant-baseline="central" stroke="#111" stroke-width="0.15">24</text>
<text x="238.5" y="200.6" font-family="Liberation Serif" font-size="18.5" font-style="normal" font-weight="normal" fill="#111" text-anchor="middle" dominant-baseline="central" stroke="#111" stroke-width="0.15">41</text>
<text x="280.9" y="222.0" font-family="Liberation Serif" font-size="18.5" font-style="normal" font-weight="normal" fill="#111" text-anchor="middle" dominant-baseline="central" stroke="#111" stroke-width="0.15">25</text>
<text x="238.9" y="243.0" font-family="Liberation Serif" font-size="18.5" font-style="normal" font-weight="normal" fill="#111" text-anchor="middle" dominant-baseline="central" stroke="#111" stroke-width="0.15">40</text>
<rect x="261.4" y="264.6" width="19.8" height="30.2" fill="#3b3b3b" stroke="#111" stroke-width="1.2" />
<rect x="344.3" y="150.0" width="207.7" height="83.1" fill="#ffffff" stroke="#262b6c" stroke-width="2" />
<line x1="344.3" y1="191.2" x2="552.0" y2="191.2" stroke="#f2472b" stroke-width="4.5" />
<line x1="385.0" y1="150.0" x2="385.0" y2="233.1" stroke="#f2472b" stroke-width="3" />
<line x1="428.0" y1="150.0" x2="428.0" y2="233.1" stroke="#f2472b" stroke-width="3" />
<line x1="490.5" y1="150.0" x2="490.5" y2="233.1" stroke="#f2472b" stroke-width="3" />
<text x="365.2" y="168.4" font-family="Liberation Serif" font-size="18.5" font-style="normal" font-weight="normal" fill="#111" text-anchor="middle" dominant-baseline="central" stroke="#111" stroke-width="0.15">20</text>
<text x="406.4" y="170.4" font-family="Liberation Serif" font-size="18.5" font-style="normal" font-weight="normal" fill="#111" text-anchor="middle" dominant-baseline="central" stroke="#111" stroke-width="0.15">21</text>
<text x="461.0" y="170.4" font-family="Liberation Serif" font-size="18.5" font-style="normal" font-weight="normal" fill="#111" text-anchor="middle" dominant-baseline="central" stroke="#111" stroke-width="0.15">22</text>
<text x="522.8" y="170.4" font-family="Liberation Serif" font-size="18.5" font-style="normal" font-weight="normal" fill="#111" text-anchor="middle" dominant-baseline="central" stroke="#111" stroke-width="0.15">23</text>
<text x="365.2" y="211.1" font-family="Liberation Serif" font-size="18.5" font-style="normal" font-weight="normal" fill="#111" text-anchor="middle" dominant-baseline="central" stroke="#111" stroke-width="0.15">19</text>
<text x="409.7" y="211.1" font-family="Liberation Serif" font-size="18.5" font-style="normal" font-weight="normal" fill="#111" text-anchor="middle" dominant-baseline="central" stroke="#111" stroke-width="0.15">18</text>
<text x="459.2" y="211.1" font-family="Liberation Serif" font-size="18.5" font-style="normal" font-weight="normal" fill="#111" text-anchor="middle" dominant-baseline="central" stroke="#111" stroke-width="0.15">17</text>
<text x="522.8" y="211.1" font-family="Liberation Serif" font-size="18.5" font-style="normal" font-weight="normal" fill="#111" text-anchor="middle" dominant-baseline="central" stroke="#111" stroke-width="0.15">16</text>
<rect x="469.4" y="265.7" width="20.4" height="29.1" fill="#3b3b3b" stroke="#111" stroke-width="1.2" />
<rect x="594.5" y="145.0" width="84.1" height="122.0" fill="#ffffff" stroke="#262b6c" stroke-width="2" />
<line x1="594.5" y1="206.4" x2="678.6" y2="206.4" stroke="#f2472b" stroke-width="4" />
<text x="635.9" y="168.4" font-family="Liberation Serif" font-size="18.5" font-style="normal" font-weight="normal" fill="#111" text-anchor="middle" dominant-baseline="central" stroke="#111" stroke-width="0.15">6</text>
<text x="635.9" y="234.5" font-family="Liberation Serif" font-size="18.5" font-style="normal" font-weight="normal" fill="#111" text-anchor="middle" dominant-baseline="central" stroke="#111" stroke-width="0.15">5</text>
<rect x="697.7" y="265.7" width="5.0" height="29.1" fill="#42b83a" />
<rect x="677.9" y="265.7" width="19.8" height="29.1" fill="#3b3b3b" stroke="#111" stroke-width="1.2" />
<rect x="219.0" y="296.3" width="83.4" height="126.3" fill="#ffffff" stroke="#262b6c" stroke-width="2" />
<line x1="219.0" y1="338.1" x2="258.5" y2="338.1" stroke="#f2472b" stroke-width="4" />
<line x1="219.0" y1="380.6" x2="258.5" y2="380.6" stroke="#f2472b" stroke-width="4" />
<line x1="260.0" y1="357.2" x2="302.4" y2="357.2" stroke="#f2472b" stroke-width="4" />
<line x1="260.0" y1="296.3" x2="260.0" y2="422.6" stroke="#f2472b" stroke-width="4" />
<text x="239.0" y="318.9" font-family="Liberation Serif" font-size="18.5" font-style="normal" font-weight="normal" fill="#111" text-anchor="middle" dominant-baseline="central" stroke="#111" stroke-width="0.15">39</text>
<text x="239.0" y="360.9" font-family="Liberation Serif" font-size="18.5" font-style="normal" font-weight="normal" fill="#111" text-anchor="middle" dominant-baseline="central" stroke="#111" stroke-width="0.15">38</text>
<text x="239.0" y="402.8" font-family="Liberation Serif" font-size="18.5" font-style="normal" font-weight="normal" fill="#111" text-anchor="middle" dominant-baseline="central" stroke="#111" stroke-width="0.15">37</text>
<text x="282.2" y="328.6" font-family="Liberation Serif" font-size="18.5" font-style="normal" font-weight="normal" fill="#111" text-anchor="middle" dominant-baseline="central" stroke="#111" stroke-width="0.15">26</text>
<text x="281.0" y="391.4" font-family="Liberation Serif" font-size="18.5" font-style="normal" font-weight="normal" fill="#111" text-anchor="middle" dominant-baseline="central" stroke="#111" stroke-width="0.15">27</text>
<rect x="261.1" y="471.5" width="20.4" height="4.5" fill="#42b83a" />
<rect x="261.1" y="440.0" width="20.4" height="31.5" fill="#3b3b3b" stroke="#111" stroke-width="1.2" />
<rect x="261.9" y="441.2" width="18.8" height="6.3" fill="#f6946f" />
<rect x="364.7" y="317.0" width="167.5" height="104.3" fill="#ffffff" stroke="#262b6c" stroke-width="2" />
<line x1="364.7" y1="359.5" x2="532.2" y2="359.5" stroke="#f2472b" stroke-width="4" />
<line x1="447.8" y1="317.0" x2="447.8" y2="359.5" stroke="#f2472b" stroke-width="4" />
<text x="410.2" y="338.7" font-family="Liberation Serif" font-size="18.5" font-style="normal" font-weight="normal" fill="#111" text-anchor="middle" dominant-baseline="central" stroke="#111" stroke-width="0.15">15</text>
<text x="489.0" y="338.7" font-family="Liberation Serif" font-size="18.5" font-style="normal" font-weight="normal" fill="#111" text-anchor="middle" dominant-baseline="central" stroke="#111" stroke-width="0.15">14</text>
<text x="448.3" y="388.8" font-family="Liberation Serif" font-size="18.5" font-style="normal" font-weight="normal" fill="#111" text-anchor="middle" dominant-baseline="central" stroke="#111" stroke-width="0.15">13</text>
<rect x="469.4" y="471.8" width="20.4" height="4.5" fill="#42b83a" />
<rect x="469.4" y="440.3" width="20.4" height="31.5" fill="#3b3b3b" stroke="#111" stroke-width="1.2" />
<rect x="294.0" y="441.6" width="70.7" height="21.6" fill="#9a9a9a" />
<text x="329.5" y="451.5" font-family="Liberation Serif" font-size="17" font-style="italic" font-weight="normal" fill="#222222" text-anchor="middle" dominant-baseline="central" stroke="#222" stroke-width="0.5">пульт</text>
<rect x="592.7" y="296.2" width="85.9" height="127.1" fill="#ffffff" stroke="#262b6c" stroke-width="2" />
<line x1="592.7" y1="359.0" x2="678.6" y2="359.0" stroke="#f2472b" stroke-width="4" />
<text x="633.4" y="330.9" font-family="Liberation Serif" font-size="18.5" font-style="normal" font-weight="normal" fill="#111" text-anchor="middle" dominant-baseline="central" stroke="#111" stroke-width="0.15">4</text>
<text x="633.4" y="386.8" font-family="Liberation Serif" font-size="18.5" font-style="normal" font-weight="normal" fill="#111" text-anchor="middle" dominant-baseline="central" stroke="#111" stroke-width="0.15">3</text>
<rect x="697.7" y="439.1" width="5.0" height="31.8" fill="#42b83a" />
<rect x="677.9" y="470.9" width="24.8" height="4.5" fill="#42b83a" />
<rect x="677.9" y="439.1" width="19.8" height="31.8" fill="#3b3b3b" stroke="#111" stroke-width="1.2" />
<rect x="678.7" y="440.3" width="18.2" height="6.3" fill="#f6946f" />
<rect x="65.1" y="446.5" width="15.3" height="209.1" fill="#8fa3d8" />
<rect x="80.4" y="446.5" width="43.3" height="209.1" fill="#0a4fad" />
<text x="100.5" y="554.0" font-family="Liberation Sans" font-size="20" font-style="italic" font-weight="normal" fill="#ffffff" text-anchor="middle" dominant-baseline="central" transform="rotate(-90 100.5 554.0)" >Сцена</text>
<rect x="809.8" y="264.4" width="43.3" height="210.6" fill="#fd6715" />
<path d="M853.5 264.4H905 M855 264.4V472.9 M853.5 472.9H907" stroke="#b0341c" stroke-width="3" fill="none"/>
<line x1="897.8" y1="264.4" x2="897.8" y2="472.9" stroke="#4d5252" stroke-width="4" />
<text x="832.0" y="369.4" font-family="Liberation Sans" font-size="25" font-style="italic" font-weight="normal" fill="#fff6e6" text-anchor="middle" dominant-baseline="central" transform="rotate(90 832.0 369.4)" >Фуршетна зона</text>
<rect x="809.8" y="629.5" width="43.3" height="210.5" fill="#fd6715" />
<path d="M853.5 629.5H905 M855 629.5V839 M853.5 839H923" stroke="#b0341c" stroke-width="3" fill="none"/>
<line x1="897.8" y1="629.5" x2="897.8" y2="839.0" stroke="#4d5252" stroke-width="4" />
<text x="832.0" y="734.5" font-family="Liberation Sans" font-size="25" font-style="italic" font-weight="normal" fill="#fff6e6" text-anchor="middle" dominant-baseline="central" transform="rotate(90 832.0 734.5)" >Фуршетна зона</text>
<rect x="909.6" y="317.3" width="27.7" height="126.1" fill="#959595" />
<text x="0" y="0" transform="translate(923.5 380.3) rotate(-90)" font-family="Liberation Sans" font-style="italic" font-size="18" fill="#ffffff" text-anchor="middle" dominant-baseline="central">Бренд-зона</text>
<circle cx="773.2" cy="231.9" r="8.3" fill="#fb6a1e"/>
<circle cx="741.4" cy="266.4" r="8.3" fill="#fb6a1e"/>
<circle cx="773.2" cy="307.6" r="8.3" fill="#fb6a1e"/>
<circle cx="741.0" cy="344.2" r="8.3" fill="#fb6a1e"/>
<circle cx="773.7" cy="390.8" r="8.3" fill="#fb6a1e"/>
<circle cx="742.0" cy="424.6" r="8.3" fill="#fb6a1e"/>
<circle cx="773.2" cy="466.3" r="8.3" fill="#fb6a1e"/>
<circle cx="773.7" cy="638.6" r="8.3" fill="#fb6a1e"/>
<circle cx="742.0" cy="673.0" r="8.3" fill="#fb6a1e"/>
<circle cx="773.7" cy="714.2" r="8.3" fill="#fb6a1e"/>
<circle cx="741.0" cy="756.1" r="8.3" fill="#fb6a1e"/>
<circle cx="773.2" cy="797.3" r="8.3" fill="#fb6a1e"/>
<circle cx="741.7" cy="832.2" r="8.3" fill="#fb6a1e"/>
<circle cx="518.7" cy="972.7" r="8.3" fill="#fb6a1e"/>
<circle cx="555.9" cy="929.8" r="8.3" fill="#fb6a1e"/>
<circle cx="632.2" cy="929.8" r="8.3" fill="#fb6a1e"/>
<circle cx="744.0" cy="915.3" r="8.3" fill="#fb6a1e"/>
<circle cx="712.9" cy="953.2" r="8.3" fill="#fb6a1e"/>
<circle cx="773.2" cy="952.5" r="8.3" fill="#fb6a1e"/>
<circle cx="594.9" cy="971.2" r="8.3" fill="#fb6a1e"/>
<circle cx="668.8" cy="971.2" r="8.3" fill="#fb6a1e"/>
<circle cx="743.4" cy="989.8" r="8.3" fill="#fb6a1e"/>
<rect x="260.4" y="623.9" width="20.7" height="4.5" fill="#42b83a" />
<rect x="260.4" y="628.4" width="20.7" height="33.8" fill="#3b3b3b" stroke="#111" stroke-width="1.2" />
<rect x="261.2" y="654.2" width="19.1" height="6.8" fill="#f6946f" />
<rect x="469.4" y="624.5" width="20.4" height="4.5" fill="#42b83a" />
<rect x="469.4" y="629.0" width="20.4" height="31.0" fill="#3b3b3b" stroke="#111" stroke-width="1.2" />
<rect x="677.9" y="624.5" width="19.8" height="4.5" fill="#42b83a" />
<rect x="697.7" y="629.0" width="5.0" height="33.0" fill="#42b83a" />
<rect x="677.9" y="629.0" width="19.8" height="33.0" fill="#3b3b3b" stroke="#111" stroke-width="1.2" />
<rect x="678.7" y="654.0" width="18.2" height="6.8" fill="#f6946f" />
<rect x="219.0" y="680.2" width="83.8" height="126.2" fill="#ffffff" stroke="#262b6c" stroke-width="2" />
<line x1="219.0" y1="722.0" x2="258.5" y2="722.0" stroke="#f2472b" stroke-width="4" />
<line x1="219.0" y1="764.4" x2="302.8" y2="764.4" stroke="#f2472b" stroke-width="4" />
<line x1="260.2" y1="680.2" x2="260.2" y2="806.4" stroke="#f2472b" stroke-width="4" />
<text x="239.3" y="700.4" font-family="Liberation Serif" font-size="18.5" font-style="normal" font-weight="normal" fill="#111" text-anchor="middle" dominant-baseline="central" stroke="#111" stroke-width="0.15">36</text>
<text x="239.3" y="742.2" font-family="Liberation Serif" font-size="18.5" font-style="normal" font-weight="normal" fill="#111" text-anchor="middle" dominant-baseline="central" stroke="#111" stroke-width="0.15">35</text>
<text x="239.3" y="786.3" font-family="Liberation Serif" font-size="18.5" font-style="normal" font-weight="normal" fill="#111" text-anchor="middle" dominant-baseline="central" stroke="#111" stroke-width="0.15">34</text>
<text x="282.3" y="714.9" font-family="Liberation Serif" font-size="18.5" font-style="normal" font-weight="normal" fill="#111" text-anchor="middle" dominant-baseline="central" stroke="#111" stroke-width="0.15">28</text>
<text x="282.3" y="784.2" font-family="Liberation Serif" font-size="18.5" font-style="normal" font-weight="normal" fill="#111" text-anchor="middle" dominant-baseline="central" stroke="#111" stroke-width="0.15">29</text>
<rect x="364.7" y="681.1" width="125.8" height="103.5" fill="#ffffff" stroke="#262b6c" stroke-width="2" />
<line x1="364.7" y1="742.1" x2="490.5" y2="742.1" stroke="#f2472b" stroke-width="4" />
<line x1="427.5" y1="742.1" x2="427.5" y2="784.6" stroke="#f2472b" stroke-width="4" />
<text x="427.5" y="710.4" font-family="Liberation Serif" font-size="18.5" font-style="normal" font-weight="normal" fill="#111" text-anchor="middle" dominant-baseline="central" stroke="#111" stroke-width="0.15">12</text>
<text x="395.7" y="759.8" font-family="Liberation Serif" font-size="18.5" font-style="normal" font-weight="normal" fill="#111" text-anchor="middle" dominant-baseline="central" stroke="#111" stroke-width="0.15">11</text>
<text x="458.7" y="763.1" font-family="Liberation Serif" font-size="18.5" font-style="normal" font-weight="normal" fill="#111" text-anchor="middle" dominant-baseline="central" stroke="#111" stroke-width="0.15">10</text>
<rect x="574.4" y="681.1" width="103.5" height="123.3" fill="#ffffff" stroke="#262b6c" stroke-width="2" />
<line x1="574.4" y1="742.9" x2="677.9" y2="742.9" stroke="#f2472b" stroke-width="4" />
<text x="626.5" y="714.8" font-family="Liberation Serif" font-size="18.5" font-style="normal" font-weight="normal" fill="#111" text-anchor="middle" dominant-baseline="central" stroke="#111" stroke-width="0.15">2</text>
<text x="626.5" y="773.2" font-family="Liberation Serif" font-size="18.5" font-style="normal" font-weight="normal" fill="#111" text-anchor="middle" dominant-baseline="central" stroke="#111" stroke-width="0.15">1</text>
<rect x="261.0" y="807.4" width="19.7" height="30.6" fill="#3b3b3b" stroke="#111" stroke-width="1.2" />
<rect x="470.0" y="837.8" width="19.2" height="4.5" fill="#42b83a" />
<rect x="470.0" y="808.3" width="19.2" height="29.5" fill="#3b3b3b" stroke="#111" stroke-width="1.2" />
<rect x="698.6" y="807.5" width="5.0" height="29.8" fill="#42b83a" />
<rect x="678.3" y="837.3" width="25.3" height="4.5" fill="#42b83a" />
<rect x="678.3" y="807.5" width="20.3" height="29.8" fill="#3b3b3b" stroke="#111" stroke-width="1.2" />
<g transform="translate(125.7 333) rotate(31.4)"><rect x="-41.5" y="-15.5" width="83" height="31" fill="#8e8e8e"/><text x="0" y="0.5" font-family="Liberation Sans" font-style="italic" font-size="21" fill="#ffffff" text-anchor="middle" dominant-baseline="central" letter-spacing="1">Авто</text></g>
<g transform="translate(125.6 765.8) rotate(31.4)"><rect x="-41.5" y="-15.5" width="83" height="31" fill="#8e8e8e"/><text x="0" y="0.5" font-family="Liberation Sans" font-style="italic" font-size="21" fill="#ffffff" text-anchor="middle" dominant-baseline="central" letter-spacing="1">Авто</text></g>
<path d="M64 890.3H262 M165.5 890V1077 M261 890V1077" stroke="#b0341c" stroke-width="3.8" fill="none"/>
<path d="M66 1075.5H800" stroke="#b0341c" stroke-width="3" fill="none"/>
<rect x="103.0" y="921.6" width="25.0" height="119.0" fill="#959595" />
<rect x="201.6" y="921.6" width="24.9" height="119.0" fill="#959595" />
<text x="113.8" y="980.5" font-family="Liberation Sans" font-size="14.5" font-style="italic" font-weight="normal" fill="#ffffff" text-anchor="middle" dominant-baseline="central" transform="rotate(-90 113.8 980.5)" >Оргкомітет 1</text>
<text x="212.5" y="980.5" font-family="Liberation Sans" font-size="14.5" font-style="italic" font-weight="normal" fill="#ffffff" text-anchor="middle" dominant-baseline="central" transform="rotate(-90 212.5 980.5)" >Оргкомітет 2</text>
<rect x="322.3" y="870.3" width="145.6" height="83.2" fill="#ffffff" stroke="#262b6c" stroke-width="2" />
<line x1="322.3" y1="911.6" x2="406.5" y2="911.6" stroke="#f2472b" stroke-width="4" />
<line x1="406.5" y1="870.3" x2="406.5" y2="953.5" stroke="#f2472b" stroke-width="4" />
<text x="365.2" y="892.1" font-family="Liberation Serif" font-size="18.5" font-style="normal" font-weight="normal" fill="#111" text-anchor="middle" dominant-baseline="central" stroke="#111" stroke-width="0.15">9</text>
<text x="365.2" y="930.5" font-family="Liberation Serif" font-size="18.5" font-style="normal" font-weight="normal" fill="#111" text-anchor="middle" dominant-baseline="central" stroke="#111" stroke-width="0.15">8</text>
<text x="436.0" y="906.3" font-family="Liberation Serif" font-size="18.5" font-style="normal" font-weight="normal" fill="#111" text-anchor="middle" dominant-baseline="central" stroke="#111" stroke-width="0.15">7</text>
<rect x="316.4" y="856.6" width="94.6" height="61.9" fill="none" stroke="#0ea24c" stroke-width="4"/>
<rect x="262.2" y="1002.3" width="18.3" height="33.0" fill="#3b3b3b" stroke="#111" stroke-width="1.2" />
<rect x="263.0" y="1003.5" width="16.7" height="6.3" fill="#f6946f" />
<rect x="291.3" y="1002.3" width="167.7" height="40.3" fill="#ffffff" stroke="#262b6c" stroke-width="2" />
<line x1="290.3" y1="1042.0" x2="460.0" y2="1042.0" stroke="#f2472b" stroke-width="3.5" />
<line x1="334.2" y1="1002.3" x2="334.2" y2="1043.6" stroke="#f2472b" stroke-width="4" />
<line x1="376.4" y1="1002.3" x2="376.4" y2="1043.6" stroke="#f2472b" stroke-width="4" />
<line x1="417.4" y1="1002.3" x2="417.4" y2="1043.6" stroke="#f2472b" stroke-width="4" />
<text x="311.1" y="1020.6" font-family="Liberation Serif" font-size="18.5" font-style="normal" font-weight="normal" fill="#111" text-anchor="middle" dominant-baseline="central" stroke="#111" stroke-width="0.15">33</text>
<text x="354.0" y="1020.6" font-family="Liberation Serif" font-size="18.5" font-style="normal" font-weight="normal" fill="#111" text-anchor="middle" dominant-baseline="central" stroke="#111" stroke-width="0.15">32</text>
<text x="396.8" y="1020.6" font-family="Liberation Serif" font-size="18.5" font-style="normal" font-weight="normal" fill="#111" text-anchor="middle" dominant-baseline="central" stroke="#111" stroke-width="0.15">31</text>
<text x="438.1" y="1020.6" font-family="Liberation Serif" font-size="18.5" font-style="normal" font-weight="normal" fill="#111" text-anchor="middle" dominant-baseline="central" stroke="#111" stroke-width="0.15">30</text>
<rect x="470.0" y="1002.3" width="20.6" height="33.0" fill="#3b3b3b" stroke="#111" stroke-width="1.2" />
<rect x="470.8" y="1003.5" width="19.0" height="6.3" fill="#f6946f" />
<rect x="493.6" y="1013.8" width="183.7" height="36.2" fill="#fd6715" />
<text x="585.5" y="1031.0" font-family="Liberation Sans" font-size="22" font-style="italic" font-weight="normal" fill="#fff6e6" text-anchor="middle" dominant-baseline="central" >Фуршетна зона</text>
<rect x="678.3" y="1002.7" width="21.0" height="32.2" fill="#3b3b3b" stroke="#111" stroke-width="1.2" />
<rect x="679.1" y="1003.9" width="19.4" height="6.3" fill="#f6946f" />
<rect x="708.8" y="1017.0" width="74.6" height="33.2" fill="#fd6715" />
<path d="M799.3 890.8V1077 M799.3 890.8H923 M808.8 890.8V1052.5 M808.8 970.5H896 M799.3 1051.9H861.4 M906.8 984H935" stroke="#b0341c" stroke-width="3" fill="none"/>
<rect x="895.3" y="918.6" width="11.5" height="136.0" fill="#b0341c" />
<rect x="895.3" y="918.6" width="3.7" height="136.0" fill="#5a4a48" />
<path d="M907 839V1072" stroke="#6f7aa8" stroke-width="1.2" stroke-dasharray="3 2" fill="none"/>
<g transform="translate(0 0)" fill="#3d3d3d"><rect x="832.1" y="911.4" width="39.7" height="32.5" fill="#ffffff"/><circle cx="840.3" cy="924" r="3"/><path d="M846.1 924 L858.8 917.8 V930.2 Z"/><rect x="857" y="922.3" width="12" height="3.8"/><circle cx="840.3" cy="938.1" r="3"/><rect x="846.4" y="933.2" width="11" height="10.2" rx="1"/><rect x="856" y="935.4" width="13" height="5.6"/></g>
<g transform="translate(0 81.4)" fill="#3d3d3d"><rect x="832.1" y="911.4" width="39.7" height="32.5" fill="#ffffff"/><circle cx="840.3" cy="924" r="3"/><path d="M846.1 924 L858.8 917.8 V930.2 Z"/><rect x="857" y="922.3" width="12" height="3.8"/><circle cx="840.3" cy="938.1" r="3"/><rect x="846.4" y="933.2" width="11" height="10.2" rx="1"/><rect x="856" y="935.4" width="13" height="5.6"/></g>
<line x1="909.6" y1="82.0" x2="1050.6" y2="82.0" stroke="#4f4f4f" stroke-width="2.6" />
<text x="1064" y="87.3" font-family="Liberation Sans" font-style="italic" font-weight="bold" font-size="32" textLength="70" lengthAdjust="spacingAndGlyphs" fill="#111111">ВХІД</text>
<path d="M861 263.6H905" stroke="#b0341c" stroke-width="2" fill="none"/>
<ellipse cx="1087.5" cy="553.5" rx="72.5" ry="42.5" fill="#e4efdb" stroke="#8e1b1b" stroke-width="3"/>
<text x="1087.5" y="559.8" font-family="Liberation Sans" font-style="italic" font-size="23" textLength="118" lengthAdjust="spacingAndGlyphs" fill="#111111" text-anchor="middle">Реєстрація</text>
<line x1="905.0" y1="557.0" x2="1008.0" y2="557.0" stroke="#4f4f4f" stroke-width="3" />
<path d="M893.4 557 L911 549.5 L907 557 L911 564.5 Z" fill="#4f4f4f"/>
<text x="930" y="546.2" font-family="Liberation Sans" font-style="italic" font-size="17" textLength="75" lengthAdjust="spacingAndGlyphs" fill="#111111">до Зали 1</text>
<path d="M413 919.6 L957.5 860.3 L1146 860.3" stroke="#0ea24c" stroke-width="4" fill="none" stroke-linecap="round"/>
<text x="950" y="821.5" font-family="Liberation Sans" font-weight="bold" font-size="17.5" textLength="54" lengthAdjust="spacingAndGlyphs" fill="#17a550">Стенд</text>
<text x="949" y="844.2" font-family="Liberation Sans" font-weight="bold" font-size="17.5" textLength="208" lengthAdjust="spacingAndGlyphs" fill="#17a550">"АГРО-СІМО-МАШБУД"</text>
<text x="1024.6" y="973" font-family="Liberation Sans" font-style="italic" font-size="24" textLength="128" lengthAdjust="spacingAndGlyphs" fill="#111111">Лаунж-зона</text>
<text x="1050.7" y="1010.8" font-family="Liberation Sans" font-style="italic" font-size="15" textLength="78" lengthAdjust="spacingAndGlyphs" fill="#111111">РЕСТОРАН</text>
<rect x="649.3" y="1106.0" width="34.9" height="12.3" fill="#4cb52e" />
<text x="697.8" y="1117.5" font-family="Liberation Sans" font-style="italic" font-size="17.5" textLength="221" lengthAdjust="spacingAndGlyphs" fill="#1a1a1a">місця під банерну рекламу</text>
</svg></body></html>
